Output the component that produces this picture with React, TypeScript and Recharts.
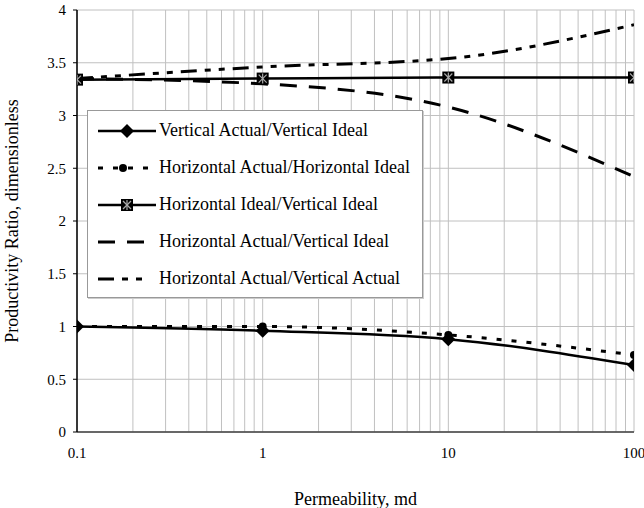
import React from 'react';
import {
  LineChart,
  Line,
  XAxis,
  YAxis,
  CartesianGrid,
  Legend,
} from 'recharts';

const permeability = [0.1, 1, 10, 100];
const vertActVertIdeal = [1.0, 0.96, 0.88, 0.635];
const horActHorIdeal = [1.0, 1.0, 0.92, 0.73];
const horIdealVertIdeal = [3.34, 3.35, 3.36, 3.36];
const horActVertIdeal = [3.35, 3.3, 3.08, 2.42];
const horActVertAct = [3.35, 3.46, 3.54, 3.86];

const yTicks = [0, 0.5, 1, 1.5, 2, 2.5, 3, 3.5, 4];
const decadeLabels = [0.1, 1, 10, 100];
const xTicks = [
  0.1, 0.2, 0.3, 0.4, 0.5, 0.6, 0.7, 0.8, 0.9,
  1, 2, 3, 4, 5, 6, 7, 8, 9,
  10, 20, 30, 40, 50, 60, 70, 80, 90,
  100,
];

const FONT = '"Liberation Serif", "Times New Roman", serif';
const TICK_SIZE = 15;
const TITLE_SIZE = 18;

const data = permeability.map((k, i) => ({
  k,
  s1: vertActVertIdeal[i],
  s2: horActHorIdeal[i],
  s3: horIdealVertIdeal[i],
  s4: horActVertIdeal[i],
  s5: horActVertAct[i],
}));

type Marker = 'diamond' | 'circle' | 'square' | 'none';

interface SeriesDef {
  key: string;
  name: string;
  dash?: string;
  width: number;
  marker: Marker;
}

const series: SeriesDef[] = [
  { key: 's1', name: 'Vertical Actual/Vertical Ideal', width: 2.5, marker: 'diamond' },
  { key: 's2', name: 'Horizontal Actual/Horizontal Ideal', dash: '5 10', width: 3, marker: 'circle' },
  { key: 's3', name: 'Horizontal Ideal/Vertical Ideal', width: 2.5, marker: 'square' },
  { key: 's4', name: 'Horizontal Actual/Vertical Ideal', dash: '17 12', width: 3, marker: 'none' },
  { key: 's5', name: 'Horizontal Actual/Vertical Actual', dash: '16 8 6 8 6 8', width: 3, marker: 'none' },
];

function MarkerShape({ type, cx, cy }: { type: Marker; cx: number; cy: number }) {
  if (type === 'diamond') {
    const r = 7;
    return (
      <polygon
        points={`${cx},${cy - r} ${cx + r},${cy} ${cx},${cy + r} ${cx - r},${cy}`}
        fill="#000"
      />
    );
  }
  if (type === 'circle') {
    return <circle cx={cx} cy={cy} r={4} fill="#000" />;
  }
  if (type === 'square') {
    const h = 6;
    return (
      <g>
        <rect x={cx - h} y={cy - h} width={h * 2} height={h * 2} fill="#000" />
        <line x1={cx - 4} y1={cy - 4} x2={cx + 4} y2={cy + 4} stroke="#aaa" strokeWidth={1.2} />
        <line x1={cx + 4} y1={cy - 4} x2={cx - 4} y2={cy + 4} stroke="#aaa" strokeWidth={1.2} />
        <line x1={cx} y1={cy - 5} x2={cx} y2={cy + 5} stroke="#aaa" strokeWidth={1.2} />
      </g>
    );
  }
  return null;
}

function makeDot(type: Marker) {
  if (type === 'none') return false;
  return (props: any) => {
    const { cx, cy, index } = props;
    if (cx == null || cy == null) return <g key={index} />;
    return <MarkerShape key={index} type={type} cx={cx} cy={cy} />;
  };
}

function LegendBox() {
  return (
    <div
      style={{
        width: 336,
        height: 188,
        background: '#fff',
        border: '1px solid #999',
        boxShadow: '1px 1px 0 #ccc',
        fontFamily: FONT,
        fontSize: TITLE_SIZE,
        color: '#000',
        boxSizing: 'border-box',
        paddingTop: 1,
      }}
    >
      {series.map((s) => {
        // dashed samples are drawn a bit shorter, like the original legend
        const end = s.dash ? 51 : 59;
        const mid = s.dash ? 26 : 30;
        return (
          <div
            key={s.key}
            style={{ display: 'flex', alignItems: 'center', height: 37, paddingLeft: 9 }}
          >
            <svg width={60} height={20} style={{ flex: 'none' }}>
              <line
                x1={1}
                y1={10}
                x2={end}
                y2={10}
                stroke="#000"
                strokeWidth={s.width}
                strokeDasharray={s.dash}
              />
              <MarkerShape type={s.marker} cx={mid} cy={10} />
            </svg>
            <span style={{ marginLeft: 2, whiteSpace: 'nowrap' }}>{s.name}</span>
          </div>
        );
      })}
    </div>
  );
}

function formatX(v: number): string {
  return decadeLabels.includes(v) ? String(v) : '';
}

export default function App() {
  return (
    <div style={{ position: 'absolute', left: 0, top: 0, width: 644, height: 508, background: '#fff' }}>
      <LineChart
        width={644}
        height={508}
        data={data}
        margin={{ top: 10, right: 10, bottom: 0, left: 0 }}
      >
        <CartesianGrid stroke="#c0c0c0" strokeWidth={1} />
        <XAxis
          dataKey="k"
          type="number"
          scale="log"
          domain={[0.1, 100]}
          ticks={xTicks}
          interval={0}
          tickFormatter={formatX}
          tickLine={false}
          tickSize={0}
          tickMargin={15}
          axisLine={{ stroke: '#404040', strokeWidth: 1.5 }}
          tick={{ fill: '#000', fontSize: TICK_SIZE, fontFamily: FONT }}
          height={76}
          allowDataOverflow
          label={{
            value: 'Permeability, md',
            position: 'insideBottom',
            offset: 3,
            fill: '#000',
            fontSize: TITLE_SIZE,
            fontFamily: FONT,
          }}
        />
        <YAxis
          type="number"
          domain={[0, 4]}
          ticks={yTicks}
          interval={0}
          width={77}
          tickSize={4}
          tickMargin={7}
          axisLine={{ stroke: '#000', strokeWidth: 1.5 }}
          tickLine={{ stroke: '#000' }}
          tick={{ fill: '#000', fontSize: TICK_SIZE, fontFamily: FONT }}
          label={{
            value: 'Productivity Ratio, dimensionless',
            content: ({ viewBox }: any) => {
              const cx = viewBox.x + 12;
              const cy = viewBox.y + viewBox.height / 2;
              return (
                <text
                  x={cx}
                  y={cy}
                  transform={`rotate(-90 ${cx} ${cy})`}
                  textAnchor="middle"
                  dominantBaseline="central"
                  fill="#000"
                  fontSize={TITLE_SIZE}
                  fontFamily={FONT}
                >
                  Productivity Ratio, dimensionless
                </text>
              );
            },
          }}
        />
        <Legend
          layout="vertical"
          align="center"
          verticalAlign="middle"
          wrapperStyle={{ left: 87, top: 110, width: 336 }}
          content={() => <LegendBox />}
        />
        {series.map((s) => (
          <Line
            key={s.key}
            dataKey={s.key}
            name={s.name}
            type="monotone"
            stroke="#000"
            strokeWidth={s.width}
            strokeDasharray={s.dash}
            dot={makeDot(s.marker)}
            activeDot={false}
            legendType="none"
            isAnimationActive={false}
          />
        ))}
      </LineChart>
    </div>
  );
}
